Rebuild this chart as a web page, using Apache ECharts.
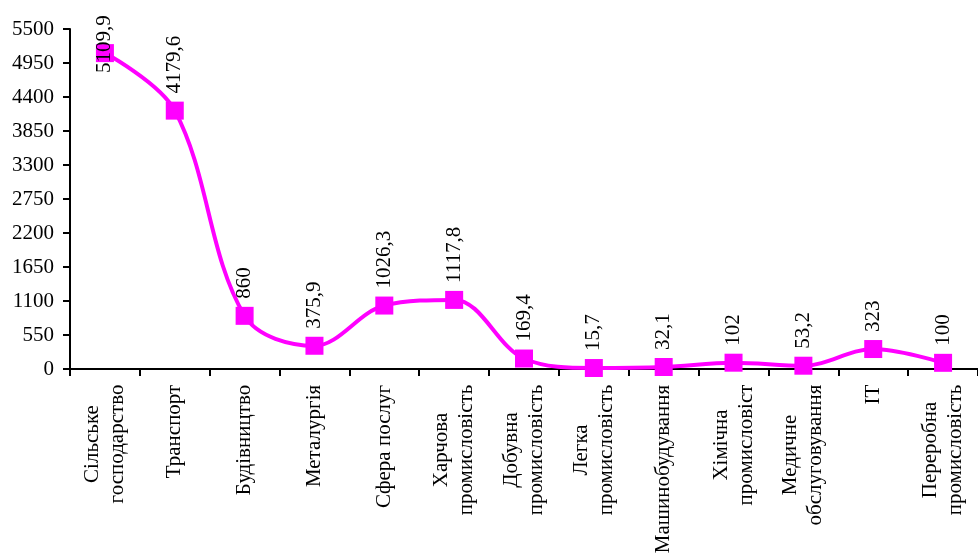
<!DOCTYPE html>
<html>
<head>
<meta charset="utf-8">
<script src="https://cdn.jsdelivr.net/npm/echarts@6/dist/echarts.min.js"></script>
<style>
html,body{margin:0;padding:0;background:#fff;}
#chart{width:978px;height:557px;}
</style>
</head>
<body>
<div id="chart"></div>
<script>
const categories = [
  "Сільське\nгосподарство",
  "Транспорт",
  "Будівництво",
  "Металургія",
  "Сфера послуг",
  "Харчова\nпромисловість",
  "Добувна\nпромисловість",
  "Легка\nпромисловість",
  "Машинобудування",
  "Хімічна\nпромисловіст",
  "Медичне\nобслуговування",
  "ІТ",
  "Переробна\nпромисловість"
];
const values = [5109.9, 4179.6, 860, 375.9, 1026.3, 1117.8, 169.4, 15.7, 32.1, 102, 53.2, 323, 100];
const yMin = 0, yMax = 5500, yInterval = 550;

const FONT = '"Times New Roman", "Liberation Serif", serif';
const FS = 21;

const ctx = document.createElement('canvas').getContext('2d');
ctx.font = FS + 'px "Liberation Serif"';
const rich = {};
categories.forEach((c, i) => {
  const w = Math.max(...c.split('\n').map(l => ctx.measureText(l).width));
  rich['c' + i] = {width: Math.ceil(w) + 1, align: 'center', fontSize: FS, fontFamily: FONT, color: '#000', lineHeight: 25};
});

const seriesData = values.map((v, i) => {
  const item = {value: v};
  if (i === 0) item.label = {distance: -29};
  return item;
});

const chart = echarts.init(document.getElementById('chart'), null, {renderer: 'canvas'});
chart.setOption({
  animation: false,
  backgroundColor: '#fff',
  grid: {left: 70, right: -9, top: 29, bottom: 188, containLabel: false},
  xAxis: {
    type: 'category',
    data: categories,
    boundaryGap: true,
    axisLine: {lineStyle: {color: '#000', width: 2}},
    axisTick: {show: true, length: 7, lineStyle: {color: '#000', width: 2}, alignWithLabel: false},
    axisLabel: {
      interval: 0,
      rotate: 90,
      margin: 15,
      fontSize: FS,
      fontFamily: FONT,
      color: '#000',
      lineHeight: 25,
      formatter: (val, idx) => val.split('\n').map(l => '{c' + idx + '|' + l + '}').join('\n'),
      rich: rich
    },
    splitLine: {show: false}
  },
  yAxis: {
    type: 'value',
    min: yMin,
    max: yMax,
    interval: yInterval,
    axisLine: {show: true, lineStyle: {color: '#000', width: 2}},
    axisTick: {show: true, length: 7, lineStyle: {color: '#000', width: 2}},
    axisLabel: {fontSize: FS, fontFamily: FONT, color: '#000', margin: 16, formatter: v => String(v)},
    splitLine: {show: false}
  },
  series: [{
    type: 'line',
    data: seriesData,
    smooth: 0.35,
    symbol: 'rect',
    symbolSize: 18,
    lineStyle: {color: '#FF00FF', width: 4},
    itemStyle: {color: '#FF00FF'},
    label: {
      show: true,
      position: 'top',
      distance: 8,
      rotate: 90,
      align: 'left',
      verticalAlign: 'middle',
      fontSize: FS,
      fontFamily: FONT,
      color: '#000',
      formatter: p => String(p.value).replace('.', ',')
    }
  }]
});
</script>
</body>
</html>
